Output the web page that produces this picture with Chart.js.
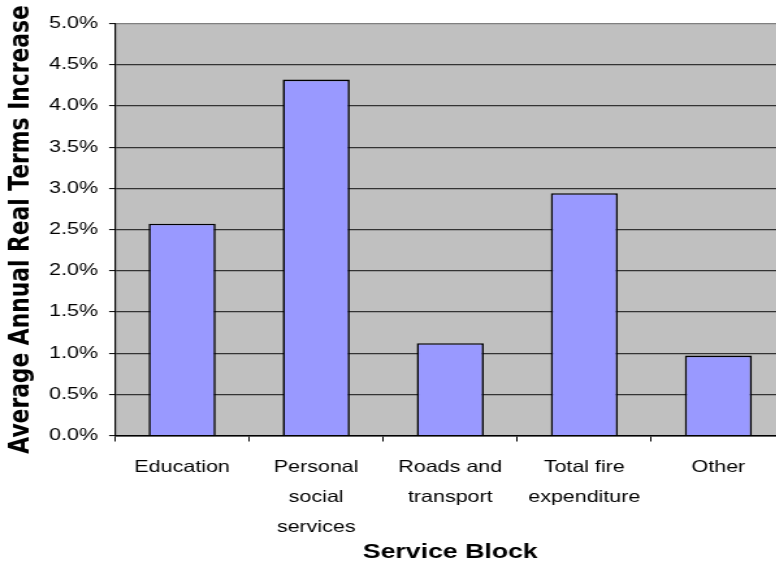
<!DOCTYPE html>
<html><head><meta charset="utf-8">
<script src="https://cdn.jsdelivr.net/npm/chart.js@4/dist/chart.umd.min.js"></script>
<style>
html,body{margin:0;padding:0;overflow:hidden;background:#fff;width:776px;height:565px}
#wrap{position:absolute;left:0;top:0;width:801px;height:565px}
canvas{display:block}
</style></head><body>
<div id="wrap"><canvas id="c" width="616" height="565" style="width:800.8px;height:565px"></canvas></div>
<script>
const categories = ['Education', ['Personal','social','services'], ['Roads and','transport'], ['Total fire','expenditure'], 'Other'];
const values = [2.57, 4.32, 1.12, 2.94, 0.97];
const yTickValues = [0, 0.5, 1, 1.5, 2, 2.5, 3, 3.5, 4, 4.5, 5];
const yTickLabels = ['0.0%','0.5%','1.0%','1.5%','2.0%','2.5%','3.0%','3.5%','4.0%','4.5%','5.0%'];
const xTitle = 'Service Block';
const yTitle = 'Average Annual Real Terms Increase';

const FONT = "'Liberation Sans', Arial, Helvetica, sans-serif";
const YTITLE_FONT = "'DejaVu Sans', 'Liberation Sans', Arial, sans-serif";

const bgPlugin = {
  id: 'plotBg',
  beforeDraw(chart) {
    const {ctx, chartArea: a} = chart;
    ctx.save();
    ctx.fillStyle = '#C0C0C0';
    ctx.fillRect(a.left, a.top, a.right - a.left, a.bottom - a.top);
    ctx.restore();
  }
};

new Chart(document.getElementById('c'), {
  type: 'bar',
  data: {
    labels: categories,
    datasets: [{
      data: values,
      backgroundColor: '#9999FF',
      borderColor: '#000000',
      borderWidth: 1.6,
      barPercentage: 0.5,
      categoryPercentage: 1.0
    }]
  },
  options: {
    responsive: false,
    devicePixelRatio: 1,
    animation: false,
    events: [],
    layout: { padding: { left: 0, right: 12, top: 23.5, bottom: 0 } },
    plugins: { legend: { display: false }, tooltip: { enabled: false } },
    scales: {
      x: {
        offset: true,
        afterFit(scale) { scale.height = 129.5; },
        border: { display: true, color: '#000', width: 1.5 },
        grid: { offset: true, drawOnChartArea: false, drawTicks: true, tickLength: 6, tickColor: '#000', tickWidth: 1 },
        ticks: { color: '#000', font: { family: FONT, size: 16.5, lineHeight: '30px' }, padding: 10.5, maxRotation: 0, autoSkip: false },
        title: { display: true, text: xTitle, color: '#000', font: { family: FONT, size: 20.5, weight: 'bold', lineHeight: 1.2 }, padding: { top: 0, bottom: 0 } }
      },
      y: {
        min: 0, max: 5,
        afterFit(scale) { scale.width = 88.5; },
        afterBuildTicks(scale) { scale.ticks = yTickValues.map(v => ({ value: v })); },
        border: { display: true, color: '#000', width: 1.2 },
        grid: {
          color: ctx => (ctx.tick && ctx.tick.value === 5) ? '#808080' : '#333333',
          lineWidth: 1.2,
          drawTicks: true, tickLength: 4.6, tickColor: '#000', tickWidth: 1
        },
        ticks: {
          color: '#000', padding: 8.5,
          font: { family: FONT, size: 16.5 },
          callback: (v) => yTickLabels[yTickValues.indexOf(v)]
        },
        title: { display: true, text: yTitle, color: '#000', font: { family: YTITLE_FONT, size: 21.8, weight: 'bold', lineHeight: 1.2 }, padding: { top: 3, bottom: 0 } }
      }
    }
  },
  plugins: [bgPlugin]
});
</script>
</body></html>
